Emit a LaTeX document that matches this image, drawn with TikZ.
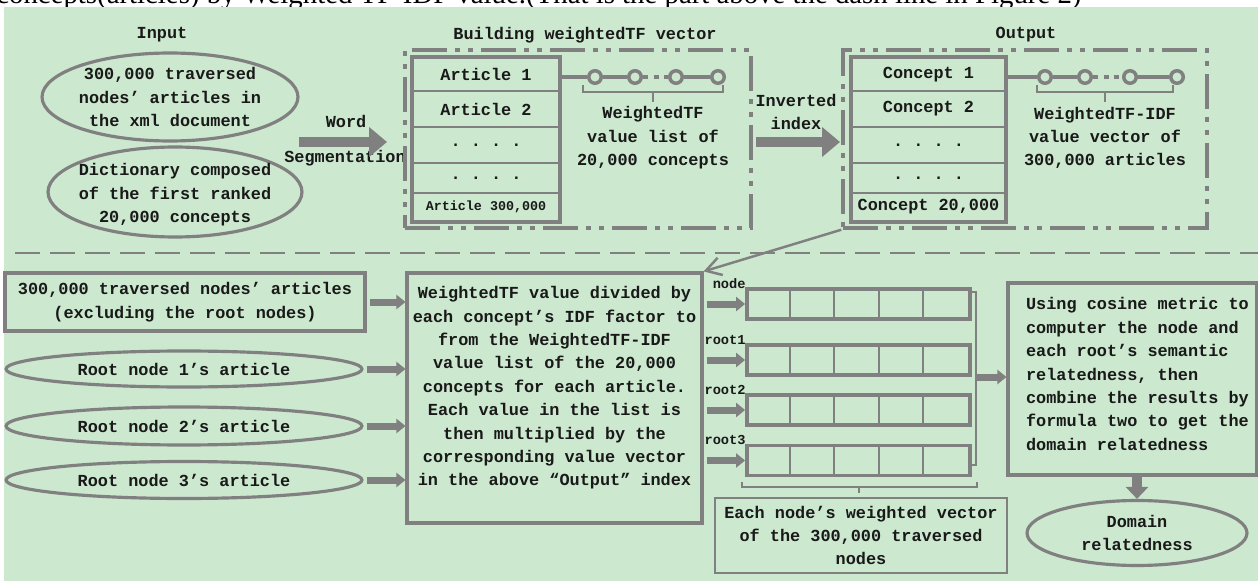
\documentclass[tikz,border=0pt]{standalone}
\usepackage{fontspec}
\setmonofont{Liberation Mono}
\newfontfamily\pageserif{Liberation Serif}
\usetikzlibrary{arrows.meta, positioning, shapes.geometric}

\newcommand{\mainfnt}{\ttfamily\bfseries\fontsize{9.6}{13.3}\selectfont}
\newcommand{\smallfnt}{\fontsize{7.6}{9}\selectfont}
\newcommand{\lblfnt}{\ttfamily\bfseries\fontsize{7.8}{9}\selectfont}

\begin{document}
\begin{tikzpicture}[x=0.02cm, y=-0.02cm, every node/.style={align=center, font=\mainfnt, text=txtcol, inner sep=1pt},
    inellipse/.style={ellipse, draw=linegray, line width=1.8pt, inner sep=0},
    plainbox/.style={rectangle, draw=linegray, line width=1.8pt},
    notebox/.style={rectangle, draw=linegray, line width=1.2pt},
    dashbox/.style={rectangle, draw=linegray, line width=2pt, dash pattern=on 0.7cm off 0.16cm on 0.1cm off 0.16cm on 0.1cm off 0.16cm},
    rowcell/.style={rectangle, draw=linegray, line width=1.4pt, inner sep=0},
    stackline/.style={draw=linegray, line width=2.3pt},
    chaincirc/.style={circle, draw=linegray, line width=2pt, fill=bggreen, minimum size=0.25cm, inner sep=0},
    chainline/.style={draw=linegray, line width=1.8pt},
    thinline/.style={draw=linegray, line width=1.3pt},
    vecrow/.style={rectangle, draw=linegray, line width=2.2pt, inner sep=0},
    cellline/.style={draw=linegray, line width=1.1pt},
    bigarrow/.style={draw=linegray, line width=0.2cm, -{Triangle[length=0.36cm, width=0.58cm]}},
    smallarrow/.style={draw=linegray, line width=0.14cm, -{Triangle[length=0.18cm, width=0.28cm]}},
    downarrow/.style={draw=linegray, line width=0.2cm, -{Triangle[length=0.24cm, width=0.44cm]}},
    linkarrow/.style={draw=linegray, line width=1.4pt, -{Straight Barb[length=0.3cm, width=0.36cm]}}]
  \definecolor{bggreen}{RGB}{204,232,207}
  \definecolor{linegray}{RGB}{128,128,128}
  \definecolor{txtcol}{RGB}{25,25,25}

  \useasboundingbox (0,0) rectangle (1258,581);
  \clip (0,0) rectangle (1258,581);
  \node[anchor=base west, font=\pageserif\fontsize{16.4}{18}\selectfont, text=black, inner sep=0] (pagetxt) at (-4,4)
    {concepts(articles) by Weighted TF-IDF value.(That is the part above the dash line in Figure 2)};
  \fill[bggreen] (4,7) rectangle (1258,581);

  % input
  \node (inputlbl) at (162,35) {Input};
  \node[inellipse, minimum width=5.12cm, minimum height=1.76cm] (xmlart) at (170,97) {};
  \node (xmlarttxt) at (xmlart) {300,000 traversed\\nodes’ articles in\\the xml document};
  \node[inellipse, minimum width=5.08cm, minimum height=1.8cm] (dict) at (175,192) {};
  \node (dicttxt) at (175,195) {Dictionary composed\\of the first ranked\\20,000 concepts};

  \node (wordlbl) at (346,121) {Word};
  \node (seglbl) at (345,158) {Segmentation};
  \coordinate (segtail) at (299,142);
  \coordinate (segtip) at (387,142);
  \draw[bigarrow] (segtail) -- (segtip);

  % building weightedTF vector
  \node (buildlbl) at (585,35) {Building weightedTF vector};
  \node[dashbox, minimum width=6.92cm, minimum height=3.56cm] (build) at (578,139) {};
  \foreach \i/\yc/\h/\txt in {1/74.5/33/{Article 1}, 2/109/36/{Article 2}, 3/145/36/{. . . .}, 4/178/30/{. . . .}, 5/207/28/{\smallfnt Article 300,000}}
    \node[rowcell, minimum width=2.92cm, minimum height=\h*0.02cm] (art\i) at (486,\yc) {\txt};
  \draw[stackline] (art1.north west) rectangle (art5.south east);
  \foreach \i/\x in {1/595, 2/635, 3/676, 4/718}
    \node[chaincirc] (wc\i) at (\x,77) {};
  \draw[chainline] (art1.east |- wc1) -- (wc1) -- (wc2);
  \draw[chainline, dash pattern=on 3pt off 3pt] (wc2) -- (wc3);
  \draw[chainline] (wc3) -- (wc4);
  \draw[thinline] (583,85) -- (583,92) -- (723,92) -- (723,85) (653,92) -- (653,102);
  \node (wtflist) at (653,138) {WeightedTF\\value list of\\20,000 concepts};

  \node (invlbl) at (796,112) {Inverted\\index};
  \coordinate (invtail) at (756,142);
  \coordinate (invtip) at (840,142);
  \draw[bigarrow] (invtail) -- (invtip);

  % output
  \node (outlbl) at (1026,35) {Output};
  \node[dashbox, minimum width=7.28cm, minimum height=3.56cm] (outbox) at (1025,139) {};
  \foreach \i/\yc/\h/\txt in {1/74.5/33/{Concept 1}, 2/109/36/{Concept 2}, 3/145/36/{. . . .}, 4/178/30/{. . . .}, 5/207/28/{Concept 20,000}}
    \node[rowcell, minimum width=3.06cm, minimum height=\h*0.02cm] (con\i) at (928.5,\yc) {\txt};
  \draw[stackline] (con1.north west) rectangle (con5.south east);
  \foreach \i/\x in {1/1045, 2/1085, 3/1130, 4/1177}
    \node[chaincirc] (oc\i) at (\x,77) {};
  \draw[chainline] (con1.east |- oc1) -- (oc1) -- (oc2);
  \draw[chainline, dash pattern=on 3pt off 3pt] (oc2) -- (oc3);
  \draw[chainline] (oc3) -- (oc4);
  \draw[thinline] (1037,85) -- (1037,92) -- (1173,92) -- (1173,85) (1105,92) -- (1105,102);
  \node (idfvec) at (1105,138) {WeightedTF-IDF\\value vector of\\300,000 articles};

  \draw[draw=linegray, line width=1.4pt, dash pattern=on 0.5cm off 0.2cm] (15,253) -- (1258,253);

  % lower part
  \node[plainbox, minimum width=7.2cm, minimum height=1.16cm] (trav) at (185,302) {300,000 traversed nodes’ articles\\(excluding the root nodes)};
  \foreach \i/\yc/\h in {1/369/36, 2/426/38, 3/480/37}
    \node[inellipse, minimum width=7.12cm, minimum height=\h*0.02cm] (root\i) at (184,\yc) {Root node \i’s article};

  \node[plainbox, minimum width=5.9cm, minimum height=5cm] (proc) at (554.5,398) {};
  \node (proctxt) at (554.5,388) {WeightedTF value divided by\\each concept’s IDF factor to\\from the WeightedTF-IDF\\value list of the 20,000\\concepts for each article.\\Each value in the list is\\then multiplied by the\\corresponding value vector\\in the above “Output” index};
  \foreach \n in {trav, root1, root2, root3}
    \draw[smallarrow, shorten <=0.06cm] (\n.east) -- (\n.east -| proc.west);

  \draw[linkarrow] (outbox.south west) -- (proc.north east);

  \foreach \i/\yc/\lbl in {1/304/node, 2/360/root1, 3/410/root2, 4/460.5/root3} {
    \node[vecrow, minimum width=4.46cm, minimum height=0.6cm] (vec\i) at (858.5,\yc) {};
    \foreach \k in {1,...,4}
      \draw[cellline] ([xshift=\k*0.892cm]vec\i.north west) -- ([xshift=\k*0.892cm]vec\i.south west);
    \node[anchor=base east, font=\lblfnt, inner sep=0] (lbl\i) at (746,\yc-16) {\lbl};
    \draw[smallarrow, shorten <=0.06cm] (proc.east |- vec\i) -- (vec\i.west);
  }
  \draw[thinline] (970,292) -- (976,292) -- (976,465) -- (970,465);
  \draw[thinline] (742,482) -- (742,487) -- (977,487) -- (977,482) (859,487) -- (859,493);
  \node[notebox, minimum width=5.84cm, minimum height=1.5cm] (vecnote) at (861,535.5) {Each node’s weighted vector\\of the 300,000 traversed\\nodes};

  \node[plainbox, minimum width=4.98cm, minimum height=3.84cm] (rel) at (1132.5,379) {};
  \node[anchor=west, align=left] (reltxt) at (1024,374) {Using cosine metric to\\computer the node and\\each root’s semantic\\relatedness, then\\combine the results by\\formula two to get the\\domain relatedness};
  \coordinate (brkmid) at (977,377);
  \draw[smallarrow] (brkmid) -- (brkmid -| rel.west);

  \node[inellipse, minimum width=4.4cm, minimum height=1.3cm] (dom) at (1137,533) {Domain\\relatedness};
  \draw[downarrow] (rel.south -| dom) -- (dom.north);
\end{tikzpicture}
\end{document}
